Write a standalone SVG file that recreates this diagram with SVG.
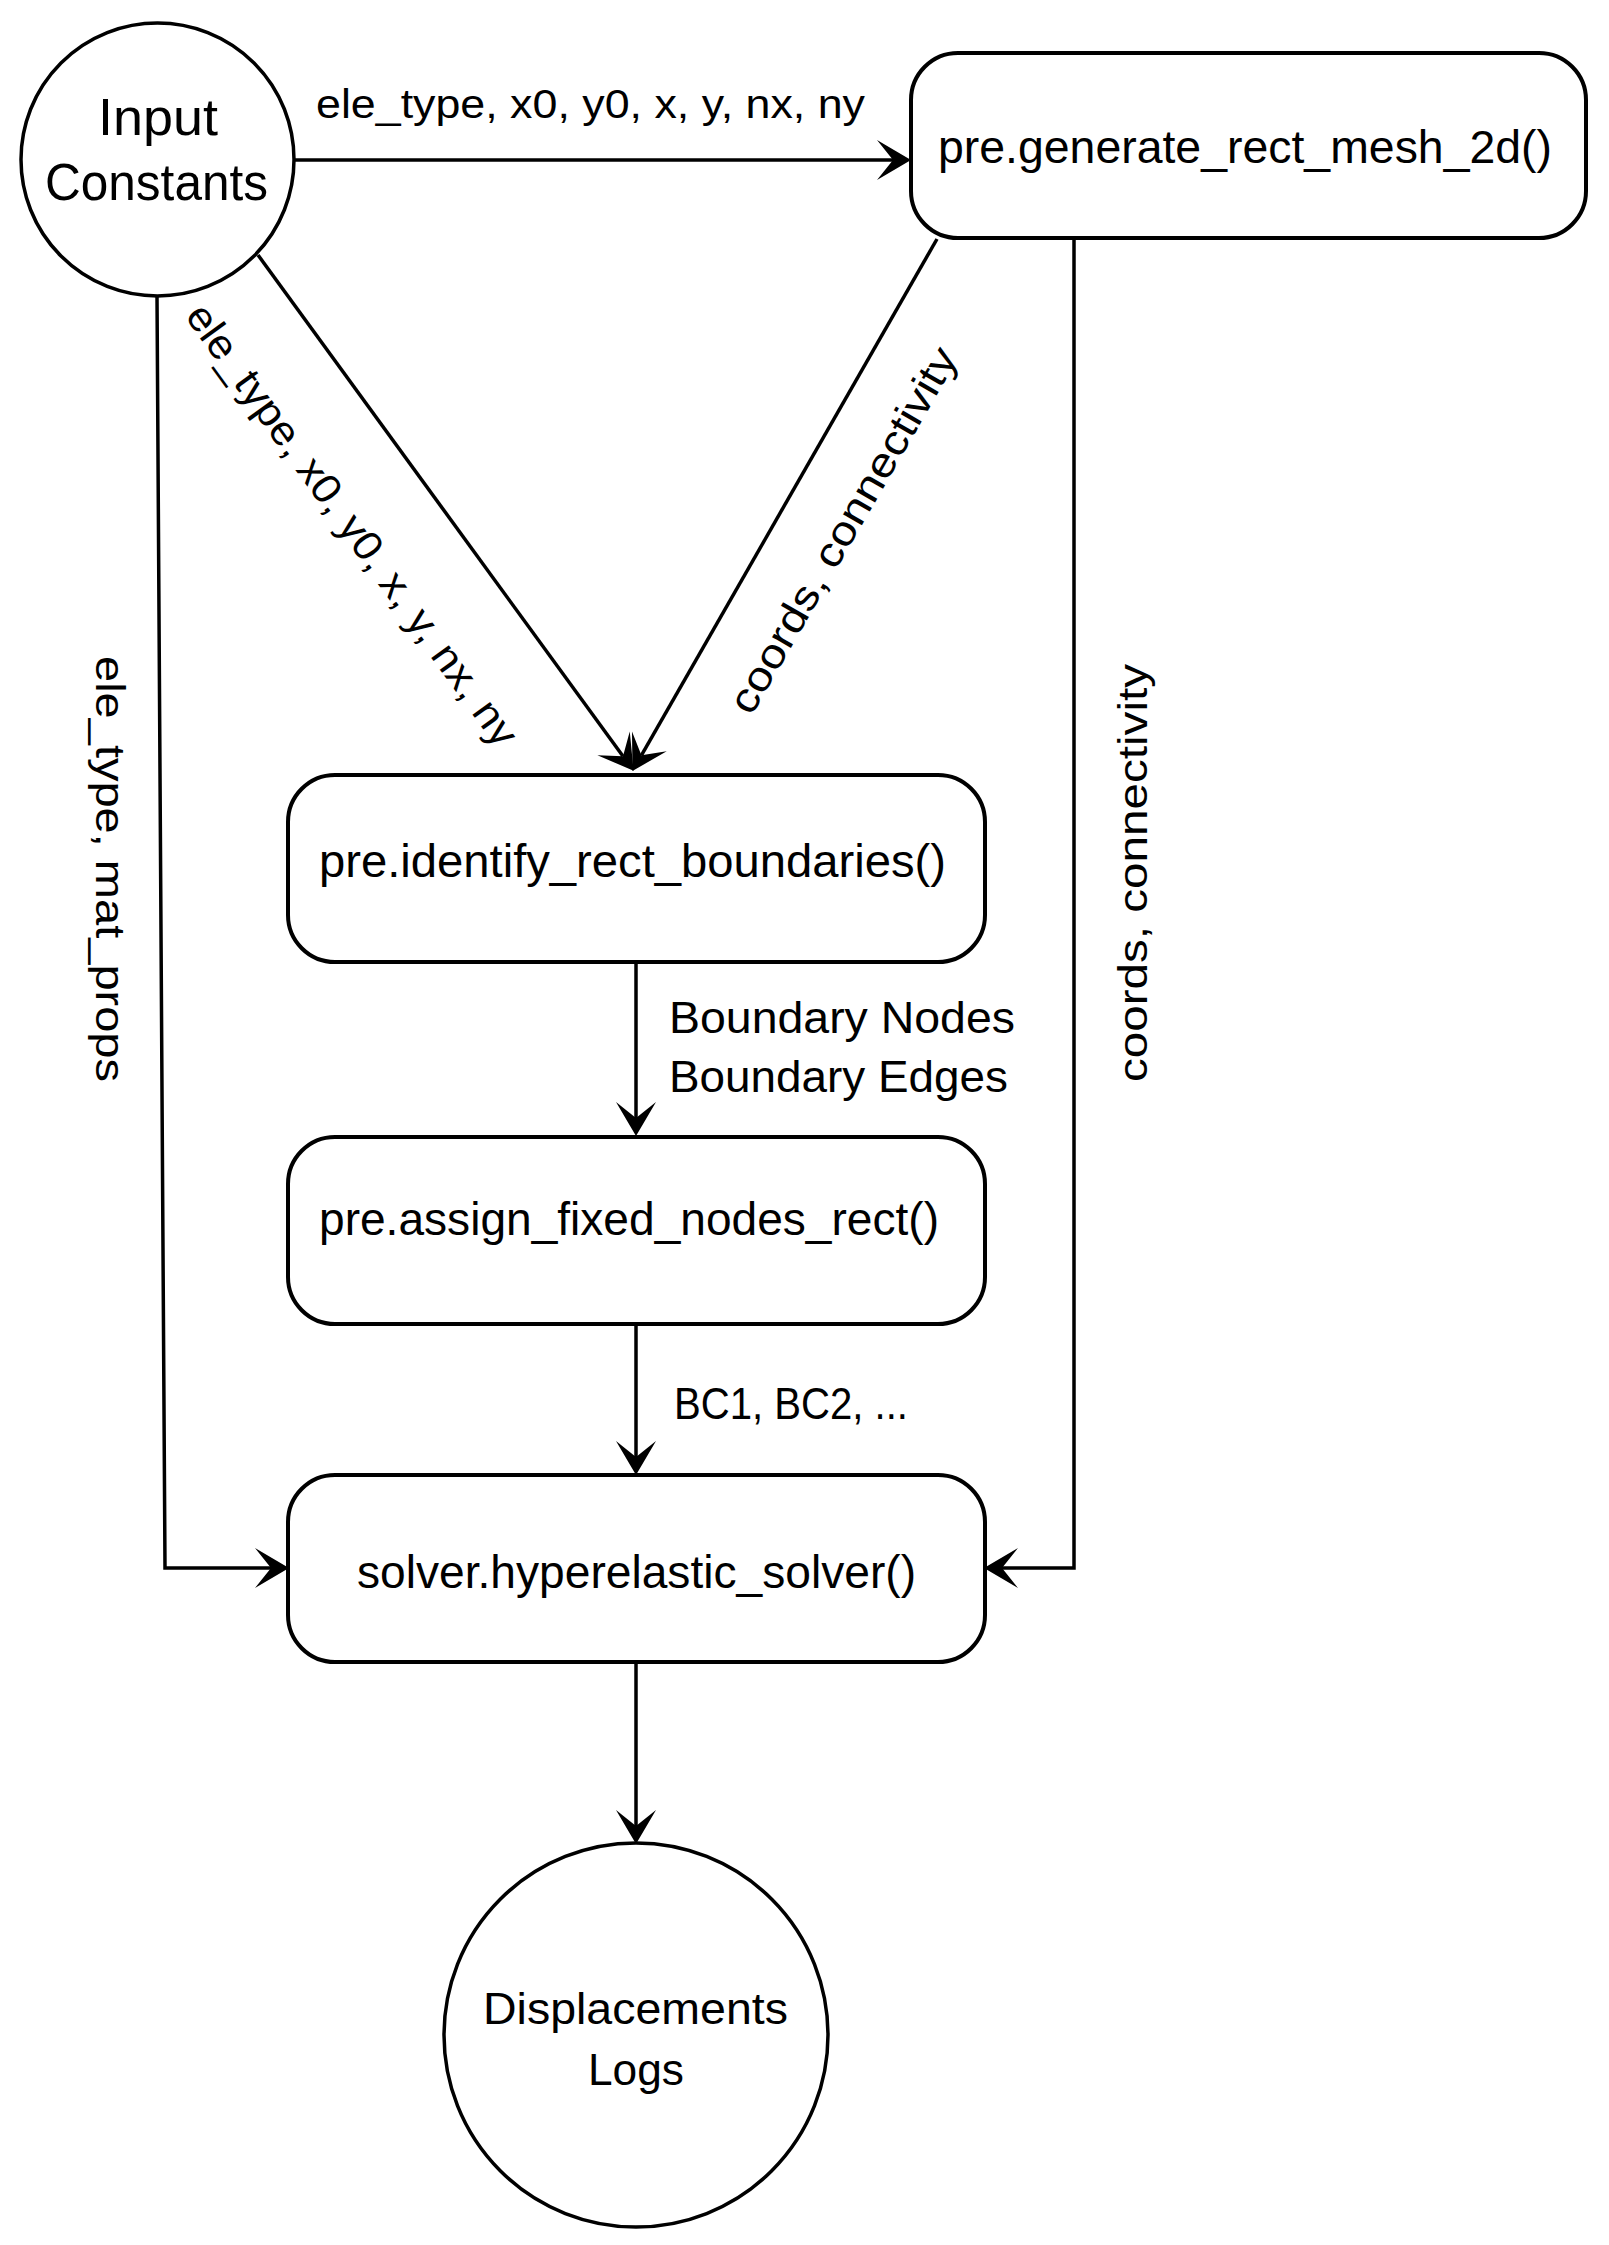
<svg xmlns="http://www.w3.org/2000/svg" width="1609" height="2245" viewBox="0 0 1609 2245">
<style>
.node{fill:#ffffff;stroke:#000000;stroke-width:4}
.circ{fill:#ffffff;stroke:#000000;stroke-width:3.5}
.edge{fill:none;stroke:#000000;stroke-width:3.5}
text{font-family:"Liberation Sans",Arial,sans-serif;fill:#000000}
.t-box{font-size:46px;text-anchor:middle}
.t-circ{font-size:52px;text-anchor:middle}
.t-disp{font-size:45px;text-anchor:middle}
.t-lbl{font-size:41px}
.t-lbl2{font-size:44px}
</style>
<defs>
<marker id="arr" markerUnits="userSpaceOnUse" markerWidth="42" markerHeight="46" viewBox="0 -23 42 46" refX="17" refY="0" orient="auto">
<path d="M1,-20 L35,0 L1,20 L17,0 Z" fill="#000000"/>
</marker>
</defs>
<rect width="1609" height="2245" fill="#ffffff"/>

<g id="connectors">
<path class="edge" d="M294,160 L893,160" marker-end="url(#arr)"/>
<path class="edge" d="M258,255 L623,756.3" marker-end="url(#arr)"/>
<path class="edge" d="M937,239 L641.4,755.3" marker-end="url(#arr)"/>
<path class="edge" d="M636,962 L636,1118" marker-end="url(#arr)"/>
<path class="edge" d="M636,1324 L636,1457" marker-end="url(#arr)"/>
<path class="edge" d="M157,296 L165,1568 L271,1568" marker-end="url(#arr)"/>
<path class="edge" d="M1074,239 L1074,1568 L1002,1568" marker-end="url(#arr)"/>
<path class="edge" d="M636,1662 L636,1826" marker-end="url(#arr)"/>
<text class="t-lbl" x="316" y="118" textLength="549" lengthAdjust="spacingAndGlyphs">ele_type, x0, y0, x, y, nx, ny</text>
<text class="t-lbl" text-anchor="middle" transform="translate(341,533) rotate(54.1)" textLength="535" lengthAdjust="spacingAndGlyphs">ele_type, x0, y0, x, y, nx, ny</text>
<text class="t-lbl" text-anchor="middle" transform="translate(855,537) rotate(-60)" textLength="415" lengthAdjust="spacingAndGlyphs">coords, connectivity</text>
<text class="t-lbl" text-anchor="middle" transform="translate(96,869) rotate(90)" textLength="426" lengthAdjust="spacingAndGlyphs">ele_type, mat_props</text>
<text class="t-lbl" text-anchor="middle" transform="translate(1147,873) rotate(-90)" textLength="418" lengthAdjust="spacingAndGlyphs">coords, connectivity</text>
<text class="t-lbl2" x="669" y="1033" textLength="346" lengthAdjust="spacingAndGlyphs">Boundary Nodes</text>
<text class="t-lbl2" x="669" y="1092" textLength="339" lengthAdjust="spacingAndGlyphs">Boundary Edges</text>
<text class="t-lbl2" x="674" y="1419" textLength="234" lengthAdjust="spacingAndGlyphs">BC1, BC2, ...</text>
</g>

<g id="input-constants">
<circle class="circ" cx="157.5" cy="159.5" r="136.5"/>
<text class="t-circ" x="158" y="135" textLength="120" lengthAdjust="spacingAndGlyphs">Input</text>
<text class="t-circ" x="156.5" y="200" textLength="223" lengthAdjust="spacingAndGlyphs">Constants</text>
</g>

<g id="generate-mesh">
<rect class="node" x="911" y="53" width="675" height="185" rx="47" ry="47"/>
<text class="t-box" x="1245" y="163" textLength="614" lengthAdjust="spacingAndGlyphs">pre.generate_rect_mesh_2d()</text>
</g>

<g id="identify-boundaries">
<rect class="node" x="288" y="775" width="697" height="187" rx="47" ry="47"/>
<text class="t-box" x="632.5" y="877" textLength="627" lengthAdjust="spacingAndGlyphs">pre.identify_rect_boundaries()</text>
</g>

<g id="assign-fixed-nodes">
<rect class="node" x="288" y="1137" width="697" height="187" rx="47" ry="47"/>
<text class="t-box" x="629" y="1235" textLength="620" lengthAdjust="spacingAndGlyphs">pre.assign_fixed_nodes_rect()</text>
</g>

<g id="solver">
<rect class="node" x="288" y="1475" width="697" height="187" rx="47" ry="47"/>
<text class="t-box" x="636.5" y="1588" textLength="559" lengthAdjust="spacingAndGlyphs">solver.hyperelastic_solver()</text>
</g>

<g id="displacements-logs">
<circle class="circ" cx="636" cy="2035" r="192"/>
<text class="t-disp" x="635.5" y="2024" textLength="305" lengthAdjust="spacingAndGlyphs">Displacements</text>
<text class="t-disp" x="636" y="2085" textLength="96" lengthAdjust="spacingAndGlyphs">Logs</text>
</g>
</svg>
